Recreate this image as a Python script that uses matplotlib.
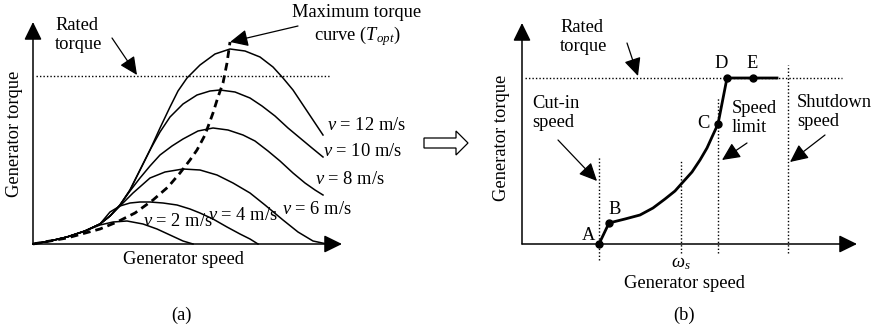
import matplotlib
matplotlib.use('Agg')
import matplotlib.pyplot as plt
from matplotlib.patches import FancyArrow

plt.rcParams['font.family'] = 'Liberation Serif'
plt.rcParams['mathtext.fontset'] = 'custom'
plt.rcParams['mathtext.rm'] = 'Liberation Serif'
plt.rcParams['mathtext.it'] = 'Liberation Serif:italic'
FS = 13.3

# (a) generator torque vs speed for several wind speeds
v2_speed = [0, 17, 34, 52, 67, 80, 94, 110, 124, 137, 150, 160]
v2_torque = [0, 3, 7, 13, 19, 22, 23, 20, 15, 9, 3, 0]
v4_speed = [0, 17, 34, 52, 67, 77, 87, 97, 107, 117, 130, 144, 157, 167, 180, 194, 207, 217, 225]
v4_torque = [0, 3, 7, 13, 20, 32, 38, 41, 42, 42, 41, 39, 35, 31, 25, 17, 10, 5, 0]
v6_speed = [0, 17, 34, 52, 67, 77, 89, 100, 117, 132, 150, 167, 184, 200, 217, 232, 250, 265, 280, 294]
v6_torque = [0, 3, 7, 13, 20, 28, 40, 51, 66, 72, 75, 74, 69, 61, 51, 39, 24, 12, 3, 0]
v8_speed = [0, 17, 34, 52, 67, 77, 87, 97, 107, 117, 127, 139, 150, 165, 180, 195, 210, 222, 235, 247, 260, 272, 282, 290]
v8_torque = [0, 3, 7, 13, 20, 28, 39, 53, 66, 78, 89, 98, 105, 113, 116, 114, 109, 103, 93, 83, 71, 61, 54, 49]
v10_speed = [0, 17, 34, 52, 67, 77, 87, 97, 107, 117, 127, 137, 150, 164, 177, 187, 202, 217, 229, 242, 255, 267, 279, 290]
v10_torque = [0, 3, 7, 13, 20, 28, 39, 54, 74, 94, 112, 127, 140, 149, 153, 154, 152, 146, 138, 128, 116, 106, 96, 87]
v12_speed = [0, 17, 34, 52, 67, 77, 87, 97, 107, 117, 127, 137, 145, 154, 167, 182, 197, 212, 227, 240, 250, 260, 270, 280, 290]
v12_torque = [0, 3, 7, 13, 20, 28, 39, 54, 74, 94, 116, 137, 153, 166, 179, 190, 195, 193, 187, 177, 166, 154, 139, 124, 109]
topt_speed = [0, 34, 67, 84, 102, 120, 135, 147, 157, 164, 172, 180, 185, 190, 194, 197]
topt_torque = [0, 6, 15, 22, 31, 44, 57, 71, 84, 94, 109, 131, 147, 161, 181, 202]
rated_a = 168

curves = [(v2_speed, v2_torque), (v4_speed, v4_torque), (v6_speed, v6_torque),
          (v8_speed, v8_torque), (v10_speed, v10_torque), (v12_speed, v12_torque)]
wind_labels = ['2', '4', '6', '8', '10', '12']
label_pos = [(110, 22), (175, 29), (249, 35), (282, 64), (290, 92), (294, 119)]

# (b) control trajectory A-B-C-D-E
ctrl_speed = [77, 87, 103, 118, 131, 143, 153, 161, 170, 178, 185, 190, 196, 205, 231, 255]
ctrl_torque = [0, 21, 25, 29, 36, 45, 53, 62, 72, 84, 96, 107, 120, 166, 166, 166]
point_names = ['A', 'B', 'C', 'D', 'E']
point_speed = [77, 87, 196, 205, 231]
point_torque = [0, 21, 120, 166, 166]
point_label_pos = [(66, 9), (93, 34), (181, 121), (199, 181), (230, 181)]
rated_b = 166
cut_in, omega_s, speed_limit, shutdown = 77, 159, 196, 266

fig = plt.figure(figsize=(8.76, 3.27), dpi=100)
ax_a = fig.add_axes([0, 0, 1, 1])
ax_a.set_xlim(-33, 843)
ax_a.set_ylim(-83, 244)
ax_b = fig.add_axes([0, 0, 1, 1])
ax_b.set_xlim(-522, 354)
ax_b.set_ylim(-83, 244)
for ax in (ax_a, ax_b):
    ax.axis('off')
    ax.patch.set_visible(False)

def axis_arrow(ax, x0, y0, x1, y1):
    ax.annotate('', xy=(x1, y1), xytext=(x0, y0),
                arrowprops=dict(arrowstyle='-|>,head_length=0.55,head_width=0.27',
                                mutation_scale=20, lw=1.1, color='black',
                                shrinkA=0, shrinkB=0))

def pointer(ax, x0, y0, x1, y1):
    ax.annotate('', xy=(x1, y1), xytext=(x0, y0),
                arrowprops=dict(arrowstyle='-|>,head_length=0.55,head_width=0.26',
                                mutation_scale=20, lw=0.9, color='black',
                                shrinkA=0, shrinkB=0))

# ---- panel (a)
axis_arrow(ax_a, 0, 0, 0, 222)
axis_arrow(ax_a, 0, 0, 309, 0)
ax_a.plot([3, 297], [rated_a, rated_a], color='black', lw=1, ls=(0, (1, 1.5)))
for (s, t) in curves:
    ax_a.plot(s, t, color='black', lw=1.1)
ax_a.plot(topt_speed, topt_torque, color='black', lw=2, ls=(0, (2.8, 1.8)))
for w, (x, y) in zip(wind_labels, label_pos):
    ax_a.text(x, y, '$v$ = ' + w + ' m/s', fontsize=FS, ha='left', va='center')

ax_a.text(22, 209, 'Rated\ntorque', fontsize=FS, ha='left', va='center', linespacing=1.15)
pointer(ax_a, 79, 206, 104, 169)
ax_a.text(324, 218, 'Maximum torque\ncurve ($T_{opt}$)', fontsize=FS, ha='center',
          va='center', linespacing=1.15)
pointer(ax_a, 265, 218, 197, 202)
ax_a.text(150, -16, 'Generator speed', fontsize=FS, ha='center', va='center')
ax_a.text(-18, 110, 'Generator torque', fontsize=FS, ha='center', va='center', rotation=90)
ax_a.text(149, -71, '(a)', fontsize=FS, ha='center', va='center')

# ---- panel (b)
axis_arrow(ax_b, 0, 0, 0, 221)
axis_arrow(ax_b, 0, 0, 335, 0)
ax_b.plot([3, 320], [rated_b, rated_b], color='black', lw=1, ls=(0, (1, 1.5)))
ax_b.plot([cut_in, cut_in], [-16, 87], color='black', lw=1, ls=(0, (1, 1.5)))
ax_b.plot([omega_s, omega_s], [-9, 84], color='black', lw=1, ls=(0, (1, 1.5)))
ax_b.plot([speed_limit, speed_limit], [-9, 146], color='black', lw=1, ls=(0, (1, 1.5)))
ax_b.plot([shutdown, shutdown], [-9, 179], color='black', lw=1, ls=(0, (1, 1.5)))
ax_b.plot(ctrl_speed, ctrl_torque, color='black', lw=2)
ax_b.plot(point_speed, point_torque, 'o', color='black', ms=5)
for n, (x, y) in zip(point_names, point_label_pos):
    ax_b.text(x, y, n, fontsize=FS, ha='center', va='center')

ax_b.text(38, 207, 'Rated\ntorque', fontsize=FS, ha='left', va='center', linespacing=1.15)
pointer(ax_b, 105, 201, 116, 168)
ax_b.text(10, 131, 'Cut-in\nspeed', fontsize=FS, ha='left', va='center', linespacing=1.15)
pointer(ax_b, 36, 104, 75, 63)
ax_b.text(210, 126, 'Speed\nlimit', fontsize=FS, ha='left', va='center', linespacing=1.15)
pointer(ax_b, 225, 101, 200, 84)
ax_b.text(275, 132, 'Shutdown\nspeed', fontsize=FS, ha='left', va='center', linespacing=1.15)
pointer(ax_b, 303, 109, 268, 82)
ax_b.text(omega_s, -19, r'$\omega_s$', fontsize=FS, ha='center', va='center')
ax_b.text(162, -39, 'Generator speed', fontsize=FS, ha='center', va='center')
ax_b.text(-20, 106, 'Generator torque', fontsize=FS, ha='center', va='center', rotation=90)
ax_b.text(162, -71, '(b)', fontsize=FS, ha='center', va='center')

# hollow arrow from (a) to (b)
ax_b.add_patch(FancyArrow(-98, 101, 44, 0, width=10, head_width=24, head_length=12,
                          length_includes_head=True, fc='white', ec='black', lw=0.9))

fig.savefig('out.png', dpi=100)
